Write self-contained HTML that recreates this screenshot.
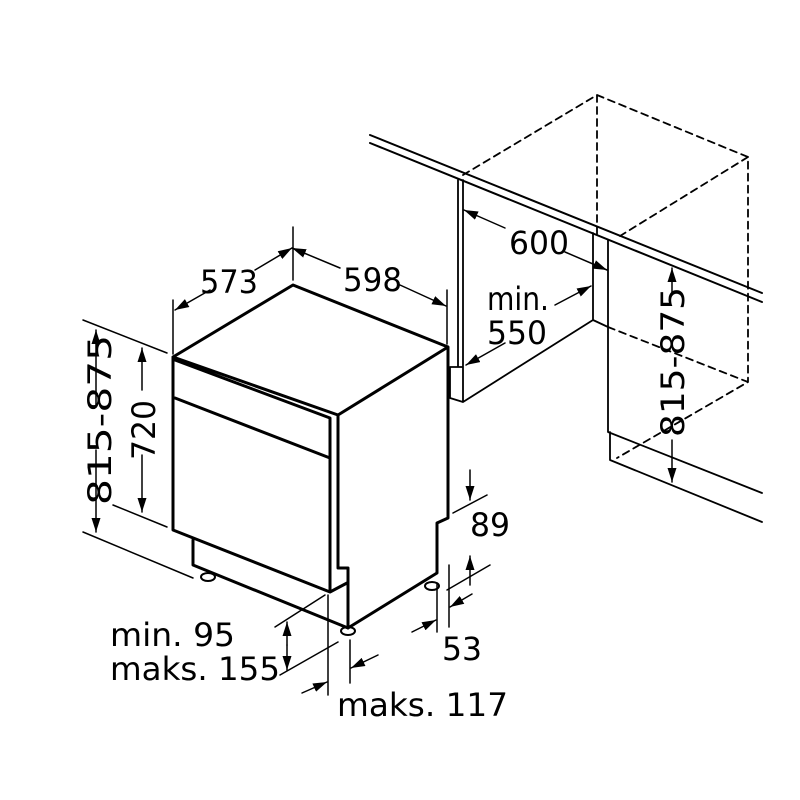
<!DOCTYPE html>
<html><head><style>html,body{margin:0;padding:0;background:#fff}svg{display:block}</style></head>
<body>
<svg width="800" height="800" viewBox="0 0 800 800" xmlns="http://www.w3.org/2000/svg">
<defs>
<marker id="a" viewBox="0 0 14 9" refX="14" refY="4.5" markerWidth="14" markerHeight="9" orient="auto-start-reverse" markerUnits="userSpaceOnUse"><path d="M0,0 L14,4.5 L0,9 Z" fill="#000"/></marker>
</defs>
<g fill="none" stroke="#000" stroke-linecap="round" stroke-linejoin="round">
<path d="M370,135 L762,293 M370,143 L762,302" stroke-width="2"/>
<path d="M463,175 L597,95 L748,157 L748,382 M748,157 L620,236 M597,95 L597,236 M608,327 L748,382 L617,458" stroke-dasharray="7,5" stroke-width="1.8"/>
<path d="M458,180 L458,367 M463,180 L463,367 M450,367 L463,367 M450,367 L450,398 L463,402 L463,367 M463,402 L593,320 L608,327 M593,320 L593,233 M608,240 L608,432 L762,493 M610,432 L610,460 L762,522" stroke-width="1.8"/>
<path d="M173,357 L293,285 L448,347 L448,518 L437,523 L437,573 L348,628 L348,568 L338,568 L338,415 L173,357 L173,530 L330,592 M175,360 L330,418 L330,592 L347,583 M175,398 L330,458 M338,415 L448,347 M193,540 L193,565 L348,628" stroke-width="3"/>
<path d="M338,415 L338,568" stroke-width="2"/>
<ellipse cx="208" cy="577" rx="7" ry="4" stroke-width="2"/>
<ellipse cx="348" cy="631" rx="7" ry="4" stroke-width="2"/>
<ellipse cx="432" cy="586" rx="7" ry="4" stroke-width="2"/>
<g stroke-width="1.5">
<path d="M293,227 L293,280 M173,300 L173,354 M447,290 L447,344"/>
<path d="M83,320 L167,353 M113,505 L167,527 M83,532 L193,578"/>
<path d="M453,513 L487,495 M447,590 L490,565"/>
<path d="M437,583 L437,632 M449,565 L449,627"/>
<path d="M275,627 L325,595 M280,675 L338,642"/>
<path d="M328,595 L328,695 M350,640 L350,683"/>
</g>
<g stroke-width="1.5" marker-end="url(#a)">
<path d="M255,270 L292,248"/>
<path d="M210,290 L175,310"/>
<path d="M340,268 L292,248"/>
<path d="M400,285 L446,306"/>
<path d="M505,228 L464,210"/>
<path d="M565,252 L607,270"/>
<path d="M555,305 L591,286"/>
<path d="M505,343 L466,365"/>
<path d="M96,405 L96,330"/>
<path d="M96,450 L96,532"/>
<path d="M142,390 L142,348"/>
<path d="M142,455 L142,512"/>
<path d="M672,295 L672,268"/>
<path d="M672,440 L672,482"/>
<path d="M470,470 L470,500"/>
<path d="M470,585 L470,556"/>
<path d="M412,632 L436,620"/>
<path d="M472,594 L450,607"/>
<path d="M287,645 L287,622"/>
<path d="M287,645 L287,670"/>
<path d="M302,693 L327,682"/>
<path d="M378,655 L351,668"/>
</g>
</g>
<g font-family="DejaVu Sans, Liberation Sans, sans-serif" font-size="32" fill="#000">
<text x="200" y="293" textLength="58" lengthAdjust="spacingAndGlyphs">573</text>
<text x="343" y="291" textLength="59" lengthAdjust="spacingAndGlyphs">598</text>
<text x="509" y="254" textLength="60" lengthAdjust="spacingAndGlyphs">600</text>
<text x="487" y="310" textLength="62" lengthAdjust="spacingAndGlyphs">min.</text>
<text x="487" y="344" textLength="60" lengthAdjust="spacingAndGlyphs">550</text>
<text x="470" y="536" textLength="40" lengthAdjust="spacingAndGlyphs">89</text>
<text x="442" y="660" textLength="40" lengthAdjust="spacingAndGlyphs">53</text>
<text x="110" y="646" textLength="125" lengthAdjust="spacingAndGlyphs">min. 95</text>
<text x="110" y="680" textLength="170" lengthAdjust="spacingAndGlyphs">maks. 155</text>
<text x="337" y="716" textLength="171" lengthAdjust="spacingAndGlyphs">maks. 117</text>
<text transform="translate(111,420) rotate(-90)" text-anchor="middle" textLength="170" lengthAdjust="spacingAndGlyphs">815-875</text>
<text transform="translate(155,430) rotate(-90)" text-anchor="middle" textLength="60" lengthAdjust="spacingAndGlyphs">720</text>
<text transform="translate(684,362) rotate(-90)" text-anchor="middle" textLength="150" lengthAdjust="spacingAndGlyphs">815-875</text>
</g>
</svg>
</body></html>
